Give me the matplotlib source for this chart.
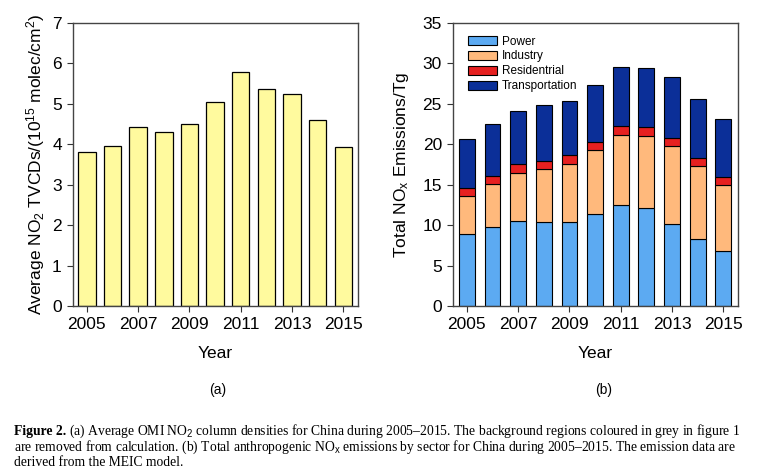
import numpy as np
import matplotlib.pyplot as plt

plt.rcParams["font.family"] = ["Liberation Sans", "DejaVu Sans"]
plt.rcParams["mathtext.fontset"] = "custom"
plt.rcParams["mathtext.rm"] = "Liberation Sans"
plt.rcParams["mathtext.it"] = "Liberation Sans:italic"

years = np.arange(2005, 2016)
no2_tvcd = [3.80, 3.96, 4.43, 4.31, 4.51, 5.04, 5.80, 5.37, 5.24, 4.60, 3.94]

sectors = ["Power", "Industry", "Residentrial", "Transportation"]
power = [8.87, 9.81, 10.47, 10.35, 10.35, 11.42, 12.49, 12.08, 10.10, 8.29, 6.84]
industry = [4.74, 5.32, 6.02, 6.56, 7.22, 7.87, 8.70, 8.98, 9.64, 9.02, 8.16]
residential = [1.03, 0.99, 1.04, 1.03, 1.07, 0.99, 1.07, 1.12, 1.03, 0.99, 0.99]
transport = [6.06, 6.44, 6.59, 6.97, 6.76, 7.09, 7.25, 7.25, 7.59, 7.34, 7.18]
sector_colors = ["#5CAAF2", "#FFB97C", "#E62020", "#0B2F98"]

tick_years = [2005, 2007, 2009, 2011, 2013, 2015]

fig = plt.figure(figsize=(7.57, 4.69), dpi=100)
ax1 = fig.add_axes([0.0964, 0.3475, 0.3765, 0.6034])
ax2 = fig.add_axes([0.5984, 0.3475, 0.3765, 0.6034])


def style_axis(ax):
    ax.set_xlim(2004.46, 2015.57)
    ax.set_xticks(tick_years)
    ax.tick_params(direction="out", length=4, width=0.8, labelsize=12.5,
                   color="#333333", pad=4)
    for s in ax.spines.values():
        s.set_color("#444444")
        s.set_linewidth(1.0)
    ax.set_xlabel("Year", fontsize=12.5, labelpad=10)


# (a) average NO2 column
ax1.bar(years, no2_tvcd, width=0.68, color="#FFFA9E", edgecolor="black", linewidth=0.9)
ax1.set_ylim(0, 7)
ax1.set_yticks(range(0, 8))
style_axis(ax1)
ax1.set_ylabel("Average NO$_2$ TVCDs/(10$^{15}$ molec/cm$^2$)", fontsize=12.5, labelpad=4)

# (b) NOx emissions by sector
bottom = np.zeros(len(years))
for name, vals, col in zip(sectors, [power, industry, residential, transport], sector_colors):
    ax2.bar(years, vals, width=0.62, bottom=bottom, color=col, edgecolor="black",
            linewidth=0.8, label=name)
    bottom += np.array(vals)
ax2.set_ylim(0, 35)
ax2.set_yticks(range(0, 36, 5))
style_axis(ax2)
ax2.set_ylabel("Total NO$_\\mathrm{x}$ Emissions/Tg", fontsize=12.5, labelpad=8)
ax2.legend(loc="upper left", bbox_to_anchor=(0.025, 0.985), frameon=False, fontsize=8.5,
           handlelength=2.4, handleheight=0.85, labelspacing=0.25, handletextpad=0.45,
           borderaxespad=0.3)

fig.text(0.287, 0.168, "(a)", ha="center", va="center", fontsize=10)
fig.text(0.797, 0.168, "(b)", ha="center", va="center", fontsize=10)

# caption
cap_font = ["Liberation Serif", "DejaVu Serif"]
cap_size = 9.8
x0 = 14 / 757
t = fig.text(x0, 0.081, "Figure 2.", family=cap_font, fontweight="bold", fontsize=cap_size,
             va="center")
fig.canvas.draw()
bb = t.get_window_extent(fig.canvas.get_renderer())
fig.text(bb.x1 / fig.bbox.width + 0.004, 0.081,
         "(a) Average OMI NO$_2$ column densities for China during 2005\u20132015. "
         "The background regions coloured in grey in figure 1",
         family=cap_font, fontsize=cap_size, va="center")
fig.text(x0, 0.047,
         "are removed from calculation. (b) Total anthropogenic NO$_\\mathrm{x}$ emissions by sector "
         "for China during 2005\u20132015. The emission data are",
         family=cap_font, fontsize=cap_size, va="center")
fig.text(x0, 0.014, "derived from the MEIC model.", family=cap_font, fontsize=cap_size,
         va="center")

fig.savefig("out.png", dpi=100)
